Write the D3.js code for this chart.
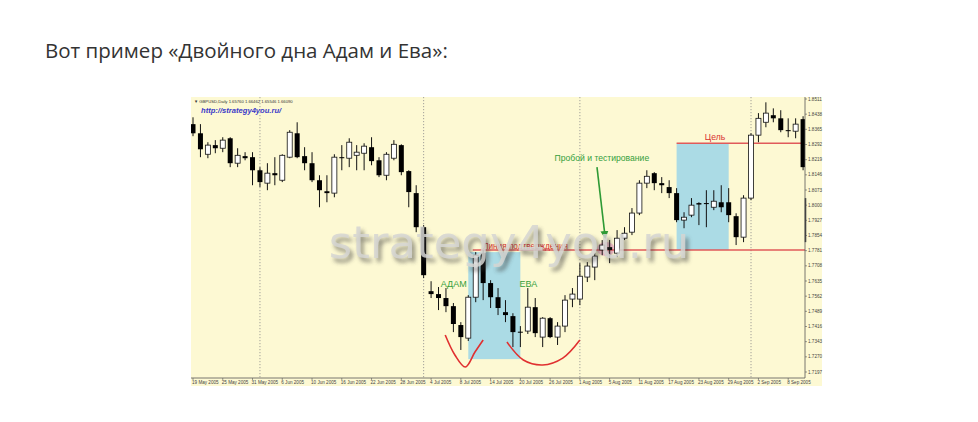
<!DOCTYPE html>
<html><head><meta charset="utf-8">
<script src="https://cdn.jsdelivr.net/npm/d3@7"></script>
<style>html,body{margin:0;padding:0;background:#fff;width:978px;height:422px;overflow:hidden}</style>
</head><body>
<svg id="c" width="978" height="422"></svg>
<script>
// ---- data (GBPUSD, Daily) ----
const dates = [
"2005-05-19","2005-05-20","2005-05-23","2005-05-24","2005-05-25","2005-05-26","2005-05-27","2005-05-30","2005-05-31",
"2005-06-01","2005-06-02","2005-06-03","2005-06-06","2005-06-07","2005-06-08","2005-06-09","2005-06-10","2005-06-13","2005-06-14","2005-06-15","2005-06-16","2005-06-17","2005-06-20","2005-06-21","2005-06-22","2005-06-23","2005-06-24","2005-06-27","2005-06-28","2005-06-29","2005-06-30",
"2005-07-01","2005-07-04","2005-07-05","2005-07-06","2005-07-07","2005-07-08","2005-07-11","2005-07-12","2005-07-13","2005-07-14","2005-07-15","2005-07-18","2005-07-19","2005-07-20","2005-07-21","2005-07-22","2005-07-25","2005-07-26","2005-07-27","2005-07-28","2005-07-29",
"2005-08-01","2005-08-02","2005-08-03","2005-08-04","2005-08-05","2005-08-08","2005-08-09","2005-08-10","2005-08-11","2005-08-12","2005-08-15","2005-08-16","2005-08-17","2005-08-18","2005-08-19","2005-08-22","2005-08-23","2005-08-24","2005-08-25","2005-08-26","2005-08-29","2005-08-30","2005-08-31",
"2005-09-01","2005-09-02","2005-09-05","2005-09-06","2005-09-07","2005-09-08","2005-09-09","2005-09-12"];
const open  = [1.8390,1.8346,1.8245,1.8289,1.8274,1.8322,1.8202,1.8236,1.8231,1.8168,1.8106,1.8154,1.8120,1.8231,1.8346,1.8236,1.8202,1.8120,1.8067,1.8058,1.8231,1.8226,1.8240,1.8250,1.8279,1.8216,1.8144,1.8226,1.8289,1.8164,1.8058,1.7894,1.7586,1.7572,1.7553,1.7514,1.7423,1.7360,1.7557,1.7769,1.7625,1.7557,1.7485,1.7466,1.7391,1.7394,1.7509,1.7365,1.7456,1.7365,1.7418,1.7548,1.7548,1.7654,1.7702,1.7784,1.7798,1.7769,1.7841,1.7870,1.7962,1.8106,1.8154,1.8106,1.8087,1.8058,1.7928,1.7952,1.8010,1.8010,1.7990,1.8014,1.8014,1.7947,1.7846,1.8034,1.8337,1.8399,1.8433,1.8418,1.8361,1.8356,1.8414];
const high  = [1.8423,1.8390,1.8303,1.8313,1.8327,1.8327,1.8274,1.8255,1.8255,1.8183,1.8202,1.8231,1.8245,1.8361,1.8399,1.8279,1.8255,1.8144,1.8144,1.8245,1.8289,1.8322,1.8289,1.8298,1.8327,1.8231,1.8255,1.8313,1.8293,1.8168,1.8096,1.7904,1.7634,1.7606,1.7601,1.7529,1.7437,1.7567,1.7774,1.7784,1.7639,1.7601,1.7543,1.7480,1.7418,1.7601,1.7553,1.7461,1.7461,1.7437,1.7567,1.7601,1.7721,1.7726,1.7769,1.7832,1.7832,1.7880,1.7894,1.7986,1.8120,1.8168,1.8159,1.8135,1.8120,1.8082,1.7966,1.8034,1.8014,1.8072,1.8072,1.8096,1.8082,1.7961,1.8048,1.8346,1.8443,1.8495,1.8466,1.8457,1.8418,1.8418,1.8428];
const low   = [1.8332,1.8231,1.8226,1.8250,1.8255,1.8183,1.8183,1.8216,1.8096,1.8087,1.8072,1.8096,1.8111,1.8226,1.8226,1.8168,1.8111,1.7990,1.8014,1.8038,1.8168,1.8183,1.8168,1.8168,1.8192,1.8135,1.8120,1.8216,1.8144,1.7990,1.7870,1.7649,1.7553,1.7495,1.7485,1.7389,1.7303,1.7346,1.7533,1.7543,1.7505,1.7471,1.7437,1.7317,1.7317,1.7380,1.7365,1.7317,1.7360,1.7327,1.7389,1.7509,1.7519,1.7630,1.7639,1.7759,1.7721,1.7750,1.7832,1.7856,1.7952,1.8082,1.8072,1.8058,1.8034,1.7918,1.7889,1.7942,1.7904,1.7894,1.7976,1.7966,1.7918,1.7808,1.7822,1.8024,1.8303,1.8375,1.8399,1.8351,1.8327,1.8322,1.8168];
const close = [1.8346,1.8269,1.8289,1.8274,1.8313,1.8202,1.8240,1.8226,1.8168,1.8111,1.8154,1.8144,1.8240,1.8351,1.8231,1.8202,1.8120,1.8072,1.8058,1.8231,1.8226,1.8303,1.8255,1.8284,1.8212,1.8144,1.8245,1.8293,1.8159,1.8063,1.7894,1.7663,1.7572,1.7553,1.7514,1.7428,1.7365,1.7557,1.7759,1.7625,1.7557,1.7505,1.7471,1.7389,1.7387,1.7509,1.7384,1.7456,1.7365,1.7418,1.7543,1.7572,1.7658,1.7707,1.7755,1.7808,1.7784,1.7841,1.7865,1.7962,1.8106,1.8139,1.8106,1.8096,1.8058,1.7928,1.7942,1.8000,1.8003,1.8008,1.8019,1.7990,1.7952,1.7846,1.8034,1.8337,1.8418,1.8443,1.8418,1.8361,1.8358,1.8390,1.8183];
const priceTicks = ["1.7197","1.7270","1.7343","1.7416","1.7489","1.7562","1.7635","1.7708","1.7781","1.7854","1.7927","1.8000","1.8073","1.8146","1.8219","1.8292","1.8365","1.8438","1.8511"];
const monthStarts = ["2005-06-01","2005-07-01","2005-08-01","2005-09-01"];
// annotation levels
const necklineLevel = 1.7784, targetLevel = 1.8298;
const adamZone = {from:"2005-07-11", to:"2005-07-20", top:1.7774, bottom:1.7259};
const targetZone = {from:"2005-08-18", to:"2005-08-29"};
const adamCurve = [[33.9,1.7375],[35.2,1.7279],[36.6,1.7221],[37.9,1.7293],[39.0,1.7351]];
const evaCurve  = [[42.2,1.7341],[44.4,1.7255],[47.0,1.7231],[49.7,1.7264],[52.0,1.7351]];

// ---- layout ----
const svg = d3.select("#c");
const IMG = {x0:191, x1:822, y0:97, y1:386};
const P = {x0:191, x1:805, y0:97, y1:378};

svg.append("text").attr("x",45).attr("y",58)
  .attr("font-family","'Open Sans', sans-serif").attr("font-size",20.5).attr("fill","#333")
  .text("Вот пример «Двойного дна Адам и Ева»:");

svg.append("rect").attr("x",IMG.x0).attr("y",IMG.y0).attr("width",IMG.x1-IMG.x0).attr("height",IMG.y1-IMG.y0).attr("fill","#fdf9d3");

const step = 7.44;
const x = d3.scalePoint().domain(dates).range([193, 193 + step*(dates.length-1)]);
const xIdx = d3.scaleLinear().domain([0, dates.length-1]).range([193, 193 + step*(dates.length-1)]);
const y = d3.scaleLinear().domain([+priceTicks[0], +priceTicks[priceTicks.length-1]]).range([372, 99]);

const defs = svg.append("defs");
defs.append("clipPath").attr("id","pc").append("rect").attr("x",P.x0).attr("y",P.y0).attr("width",P.x1-P.x0).attr("height",P.y1-P.y0);
const bl = defs.append("filter").attr("id","blur").attr("x","-10%").attr("y","-30%").attr("width","120%").attr("height","160%");
bl.append("feGaussianBlur").attr("stdDeviation",2.2);
defs.append("marker").attr("id","ah").attr("viewBox","0 0 10 10").attr("refX",8).attr("refY",5)
  .attr("markerWidth",5).attr("markerHeight",5).attr("orient","auto")
  .append("path").attr("d","M0,0 L10,5 L0,10 z").attr("fill","#2e9a35");

const g = svg.append("g").attr("clip-path","url(#pc)");

// month separators
g.selectAll("line.sep").data(monthStarts).join("line")
  .attr("x1",d=>x(d)).attr("x2",d=>x(d)).attr("y1",P.y0).attr("y2",P.y1+4)
  .attr("stroke","#8a8a8a").attr("stroke-width",0.8).attr("stroke-dasharray","1.2,1.8");

// zones
g.append("rect").attr("x",x(adamZone.from)).attr("width",x(adamZone.to)-x(adamZone.from))
  .attr("y",y(adamZone.top)).attr("height",y(adamZone.bottom)-y(adamZone.top)).attr("fill","#abdbe5");
g.append("rect").attr("x",x(targetZone.from)).attr("width",x(targetZone.to)-x(targetZone.from))
  .attr("y",y(targetLevel)).attr("height",y(necklineLevel)-y(targetLevel)).attr("fill","#abdbe5");

// pink highlight
g.append("ellipse").attr("cx",xIdx(55.5)).attr("cy",y(1.7789)).attr("rx",9).attr("ry",7).attr("fill","#f2b8c8").attr("opacity",0.9);

// levels
g.append("line").attr("x1",xIdx(37.6)).attr("x2",P.x1).attr("y1",y(necklineLevel)).attr("y2",y(necklineLevel))
  .attr("stroke","#e05a5a").attr("stroke-width",1.4);
g.append("line").attr("x1",x(targetZone.from)).attr("x2",P.x1).attr("y1",y(targetLevel)).attr("y2",y(targetLevel))
  .attr("stroke","#e05a5a").attr("stroke-width",1.4);

// candles
const idx = d3.range(dates.length);
g.selectAll("line.w").data(idx).join("line")
  .attr("x1",i=>x(dates[i])).attr("x2",i=>x(dates[i])).attr("y1",i=>y(high[i])).attr("y2",i=>y(low[i]))
  .attr("stroke","#111").attr("stroke-width",1);
g.selectAll("rect.b").data(idx).join("rect")
  .attr("x",i=>x(dates[i])-2.5).attr("width",5)
  .attr("y",i=>y(Math.max(open[i],close[i])))
  .attr("height",i=>Math.max(1,Math.abs(y(open[i])-y(close[i]))))
  .attr("fill",i=>close[i]>open[i]?"#fff":"#000")
  .attr("stroke",i=>close[i]>open[i]?"#111":"none").attr("stroke-width",0.8);

// curves
const cl = d3.line().x(d=>xIdx(d[0])).y(d=>y(d[1])).curve(d3.curveCatmullRom);
[adamCurve, evaCurve].forEach(c=>g.append("path").attr("d",cl(c)).attr("fill","none").attr("stroke","#e03030").attr("stroke-width",1.6));

// arrow
g.append("line").attr("x1",xIdx(54.3)).attr("y1",y(1.8183)).attr("x2",xIdx(55.4)).attr("y2",y(1.7845))
  .attr("stroke","#2e9a35").attr("stroke-width",1.6).attr("marker-end","url(#ah)");

// annotation texts
const tf = "'Liberation Sans', Arial, sans-serif";
g.append("text").attr("x",xIdx(33.3)).attr("y",y(1.7387)-46).attr("font-family",tf).attr("font-size",9).attr("fill","#35a03c").text("АДАМ");
g.append("text").attr("x",xIdx(43.9)).attr("y",y(1.7387)-46).attr("font-family",tf).attr("font-size",9).attr("fill","#35a03c").text("ЕВА");
g.append("text").attr("x",xIdx(39.0)).attr("y",y(necklineLevel)-1.5).attr("font-family",tf).attr("font-size",8.2).attr("fill","#d83030").text("Линия подтверждения");
g.append("text").attr("x",xIdx(48.6)).attr("y",y(1.8183)-6).attr("font-family",tf).attr("font-size",8.6).attr("fill","#35a03c").text("Пробой и тестирование");
g.append("text").attr("x",xIdx(68.8)).attr("y",y(targetLevel)-3).attr("font-family",tf).attr("font-size",8.6).attr("fill","#d83030").text("Цель");

// header texts
g.append("text").attr("x",194).attr("y",103).attr("font-family",tf).attr("font-size",4.2).attr("fill","#333")
  .text("▼ GBPUSD,Daily  1.65760 1.66462 1.65546 1.66090");
g.append("text").attr("x",201).attr("y",113).attr("font-family",tf).attr("font-size",7.6).attr("font-weight","bold").attr("font-style","italic").attr("fill","#3a3ac8")
  .text("http://strategy4you.ru/");

// watermark
const wm = svg.append("g").attr("font-family","'DejaVu Sans', sans-serif").attr("font-size",45).attr("text-anchor","middle");
wm.append("text").attr("x",512).attr("y",262).attr("fill","#3a3a3a").attr("opacity",0.55).attr("filter","url(#blur)").text("strategy4you.ru");
wm.append("text").attr("x",509).attr("y",258).attr("fill","#d6d6d3").attr("opacity",0.85).text("strategy4you.ru");

// axes
svg.append("line").attr("x1",P.x1).attr("x2",P.x1).attr("y1",P.y0).attr("y2",P.y1).attr("stroke","#555").attr("stroke-width",0.8);
svg.append("line").attr("x1",P.x0).attr("x2",P.x1).attr("y1",P.y1).attr("y2",P.y1).attr("stroke","#555").attr("stroke-width",0.8);
svg.selectAll("line.yt").data(priceTicks).join("line").attr("x1",P.x1).attr("x2",P.x1+2)
  .attr("y1",d=>y(+d)).attr("y2",d=>y(+d)).attr("stroke","#555").attr("stroke-width",0.6);
svg.selectAll("text.yl").data(priceTicks).join("text").attr("x",P.x1+3).attr("y",d=>y(+d)+1.6)
  .attr("font-family",tf).attr("font-size",4.6).attr("fill","#444").text(d=>d);
svg.append("line").attr("x1",P.x1+0.5).attr("x2",P.x1+0.5).attr("y1",y(1.8034)).attr("y2",y(1.7822)).attr("stroke","#444").attr("stroke-width",1.6);

const fmt = d3.timeFormat("%-d %b %Y"), parse = d3.timeParse("%Y-%m-%d");
const labelDates = dates.filter((d,i)=>i%4===0);
svg.selectAll("text.xl").data(labelDates).join("text").attr("x",d=>x(d)-1).attr("y",383.5)
  .attr("font-family",tf).attr("font-size",4.6).attr("fill","#444").text(d=>fmt(parse(d)));
svg.selectAll("line.xt").data(labelDates).join("line").attr("x1",d=>x(d)).attr("x2",d=>x(d)).attr("y1",P.y1).attr("y2",P.y1+2)
  .attr("stroke","#555").attr("stroke-width",0.6);
</script>
</body></html>
